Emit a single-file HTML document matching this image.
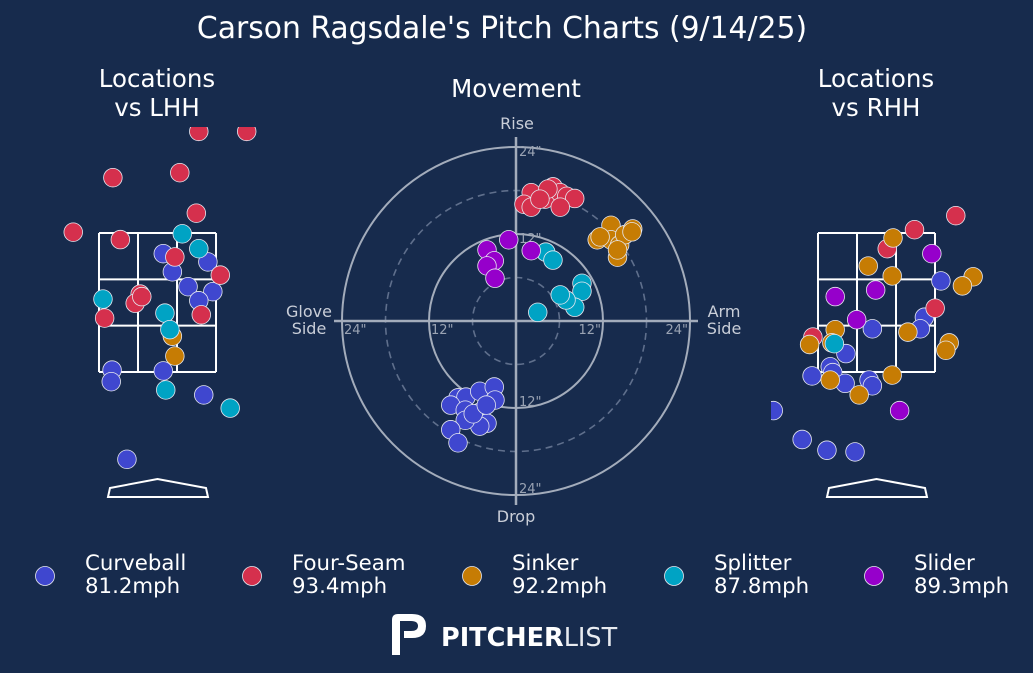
<!DOCTYPE html>
<html><head><meta charset="utf-8">
<style>
html,body{margin:0;padding:0;background:#172b4d;}
svg{display:block;font-family:"DejaVu Sans","Liberation Sans",sans-serif;}
</style></head>
<body>
<svg id="chart" width="1033" height="673" viewBox="0 0 1033 673" xmlns="http://www.w3.org/2000/svg">
<rect width="1033" height="673" fill="#172b4d"/>
<text x="502" y="38" fill="#fff" font-size="29.8" text-anchor="middle">Carson Ragsdale's Pitch Charts (9/14/25)</text>
<text x="157" y="87" fill="#fff" font-size="24.5" text-anchor="middle"><tspan x="157">Locations</tspan><tspan x="157" dy="29">vs LHH</tspan></text>
<text x="516" y="97" fill="#fff" font-size="24.5" text-anchor="middle">Movement</text>
<text x="876" y="87" fill="#fff" font-size="24.5" text-anchor="middle"><tspan x="876">Locations</tspan><tspan x="876" dy="29">vs RHH</tspan></text>
<defs>
<clipPath id="clipL"><rect x="0" y="127" width="330" height="400"/></clipPath>
<clipPath id="clipR"><rect x="771" y="127" width="262" height="400"/></clipPath>
</defs>
<g id="lhh"></g>
<g id="mov"></g>
<g id="rhh"></g>
<g id="legend"></g>
<g>
<path d="M392 655 V620 Q392 614 398 614 H412 Q426 614 426 626 Q426 638 412 638 H404 V631 H411 Q418 631 418 626 Q418 621 411 621 H400 V655 Z" fill="#fff"/>
<text x="441" y="646" fill="#fff" font-size="25.5"><tspan font-weight="bold">PITCHER</tspan><tspan font-weight="normal" fill="#e8ebf0">LIST</tspan></text>
</g>
</svg>
<script>
const NS='http://www.w3.org/2000/svg';
const pitchTypes=['Curveball','Four-Seam','Sinker','Splitter','Slider'];
const pitchSpeeds=['81.2mph','93.4mph','92.2mph','87.8mph','89.3mph'];
const pitchColors=['#3f47cf','#d5304d','#c67c04','#00a3c4','#9600cb'];
const movTicks=[6,12,18,24];
// movement (inches): horizontal break, induced vertical break
const movCurveX=[-8,-6.9,-5,-3,-2.9,-9,-7,-5,-4,-5,-7,-9,-8,-5.9,-4.1];
const movCurveY=[-10.6,-10.5,-9.7,-9.1,-10.9,-11.6,-12.3,-12.6,-14.1,-14.5,-13.7,-15,-16.8,-12.8,-11.6];
const movFourX=[2.1,1.1,2.1,4,5.1,6.1,7,8.1,6.1,4.4,3.3];
const movFourY=[17.7,16.1,15.7,16.8,18.5,17.7,17.2,16.9,15.7,18.2,16.8];
const movSinkX=[11.2,13.1,13.1,14.3,14,15,16.1,16,14,11.6];
const movSinkY=[11.2,13.2,11.2,10.5,8.8,11.9,12.7,12.3,9.8,11.6];
const movSplitX=[4.1,5.1,9.1,9.1,8.1,6.9,6.1,3];
const movSplitY=[9.5,8.4,5.2,4.1,1.9,2.9,3.6,1.2];
const movSlideX=[-1,2.1,-4,-3,-4,-2.9];
const movSlideY=[11.2,9.7,9.8,8.3,7.6,5.9];
// locations vs LHH (feet): plate_x, plate_z
const lhhCurveX=[0.07,0.61,0.18,0.37,0.67,0.50,-0.55,-0.56,0.07,0.56,-0.37];
const lhhCurveZ=[3.25,3.15,3.03,2.85,2.79,2.68,1.84,1.70,1.83,1.54,0.76];
const lhhFourX=[0.50,1.08,-0.54,0.27,0.47,-1.02,-0.45,0.21,0.76,-0.21,-0.27,-0.19,-0.64,0.53];
const lhhFourZ=[4.73,4.73,4.17,4.23,3.74,3.51,3.42,3.21,2.99,2.76,2.65,2.73,2.47,2.51];
const lhhSinkX=[0.18,0.21];
const lhhSinkZ=[2.25,2.01];
const lhhSplitX=[0.30,0.50,-0.66,0.09,0.15,0.10,0.88];
const lhhSplitZ=[3.49,3.31,2.70,2.53,2.33,1.60,1.38];
const lhhSlideX=[];
const lhhSlideZ=[];
// locations vs RHH
const rhhCurveX=[0.78,0.58,0.53,-0.05,-0.37,-0.56,-0.78,-0.53,-0.38,-0.09,-0.05,-1.25,-0.90,-0.60,-0.26];
const rhhCurveZ=[2.92,2.48,2.34,2.34,2.04,1.88,1.77,1.81,1.68,1.72,1.65,1.35,1.00,0.87,0.85];
const rhhFourX=[0.96,0.46,0.13,0.71,-0.77];
const rhhFourZ=[3.71,3.54,3.31,2.59,2.24];
const rhhSinkX=[0.20,-0.10,0.19,1.17,1.04,-0.50,-0.81,-0.54,0.38,0.88,0.84,-0.56,-0.21,0.19];
const rhhSinkZ=[3.44,3.10,2.98,2.97,2.86,2.33,2.15,2.17,2.30,2.17,2.08,1.72,1.54,1.78];
const rhhSplitX=[-0.51];
const rhhSplitZ=[2.16];
const rhhSlideX=[0.67,-0.01,-0.50,-0.24,0.28];
const rhhSlideZ=[3.25,2.81,2.73,2.45,1.35];

function el(tag,attrs,parent){const e=document.createElementNS(NS,tag);for(const k in attrs)e.setAttribute(k,attrs[k]);parent.appendChild(e);return e;}
const R=9.3;
// ---------- movement ----------
const mov=document.getElementById('mov');
const cx=516,cy=321,pxIn=174/24;
const mX=v=>cx+v*pxIn, mY=v=>cy-v*pxIn;
movTicks.forEach((t,i)=>{
  const c=el('circle',{cx:cx,cy:cy,r:t*pxIn,fill:'none',stroke:(t%12===0)?'#a3acbb':'#5f6f8c','stroke-width':t%12===0?2:1.6,'stroke-dasharray':t%12===0?'none':'7 5'},mov);
  
  
});
let ax=el('line',{x1:334,y1:cy,x2:698,y2:cy,stroke:'#a3acbb','stroke-width':2.5},mov);

ax=el('line',{x1:cx,y1:137,x2:cx,y2:505,stroke:'#a3acbb','stroke-width':2.5},mov);

const tickLbl=[['24"',cx+3,mY(24)+9,'start'],['12"',cx+3,mY(12)+9,'start'],['12"',cx+3,mY(-12)-2,'start'],['24"',cx+3,mY(-24)-2,'start'],
 ['24"',mX(-24)+2,cy+13,'start'],['12"',mX(-12)+2,cy+13,'start'],['12"',mX(12)-2,cy+13,'end'],['24"',mX(24)-2,cy+13,'end']];
tickLbl.forEach(t=>{const x=el('text',{x:t[1],y:t[2],fill:'#9aa3b3','font-size':13,'text-anchor':t[3]},mov);x.textContent=t[0];
 });
[['Rise',517,129],['Drop',516,522]].forEach(t=>{const x=el('text',{x:t[1],y:t[2],fill:'#c9ced8','font-size':16,'text-anchor':'middle'},mov);x.textContent=t[0];
 });
[['Glove','Side',309],['Arm','Side',724]].forEach(t=>{const x=el('text',{x:t[2],y:317,fill:'#c9ced8','font-size':16,'text-anchor':'middle'},mov);
 x.innerHTML='<tspan x="'+t[2]+'">'+t[0]+'</tspan><tspan x="'+t[2]+'" dy="17">'+t[1]+'</tspan>';
 });
const movSets=[[movCurveX,movCurveY],[movFourX,movFourY],[movSinkX,movSinkY],[movSplitX,movSplitY],[movSlideX,movSlideY]];
movSets.forEach((s,k)=>{s[0].forEach((v,i)=>{
  const c=el('circle',{cx:mX(v),cy:mY(s[1][i]),r:R,fill:pitchColors[k],stroke:'#e6e8f0','stroke-width':0.8},mov);
  
  
});});
// ---------- locations ----------
const ftPx=82.6, szTop=3.5, szBot=3.5-139/ftPx, half=17/24;
function locPanel(id,center,clip,sets,prefix){
  const g=document.getElementById(id);
  const X=v=>center+v*ftPx, Z=v=>233+(szTop-v)*ftPx;
  const zone=el('g',{},g);
  const x0=X(-half),x1=X(half),y0=Z(szTop),y1=Z(szBot);
  for(let i=0;i<4;i++){const x=x0+(x1-x0)*i/3;el('line',{x1:x,y1:y0,x2:x,y2:y1,stroke:'#fff','stroke-width':2},zone);
    const y=y0+(y1-y0)*i/3;el('line',{x1:x0,y1:y,x2:x1,y2:y,stroke:'#fff','stroke-width':2},zone);}
  const p=el('polygon',{points:[[center-49.5,497],[center-47.5,488],[center,479],[center+48.5,488],[center+50.5,497]].map(a=>a.join(',')).join(' '),fill:'none',stroke:'#fff','stroke-width':2},g);
  
  const pts=el('g',{'clip-path':'url(#'+clip+')'},g);
  
  sets.forEach((s,k)=>{s[0].forEach((v,i)=>{
    const c=el('circle',{cx:X(v),cy:Z(s[1][i]),r:R,fill:pitchColors[k],stroke:'#e6e8f0','stroke-width':0.8},pts);
    
    
  });});
}
locPanel('lhh',157.5,'clipL',[[lhhCurveX,lhhCurveZ],[lhhFourX,lhhFourZ],[lhhSinkX,lhhSinkZ],[lhhSplitX,lhhSplitZ],[lhhSlideX,lhhSlideZ]],'lhh');
locPanel('rhh',876.5,'clipR',[[rhhCurveX,rhhCurveZ],[rhhFourX,rhhFourZ],[rhhSinkX,rhhSinkZ],[rhhSplitX,rhhSplitZ],[rhhSlideX,rhhSlideZ]],'rhh');
// ---------- legend ----------
const lg=document.getElementById('legend');
const lgX=[45,252,472,674,874];
pitchTypes.forEach((n,i)=>{
  const e=el('g',{},lg);
  
  
  el('circle',{cx:lgX[i],cy:576,r:9.5,fill:pitchColors[i],stroke:'#e6e8f0','stroke-width':0.8},e);
  const t=el('text',{x:lgX[i]+40,y:570,fill:'#fff','font-size':21.3},e);
  t.innerHTML='<tspan x="'+(lgX[i]+40)+'">'+n+'</tspan><tspan x="'+(lgX[i]+40)+'" dy="23">'+pitchSpeeds[i]+'</tspan>';
});
</script>
</body></html>
